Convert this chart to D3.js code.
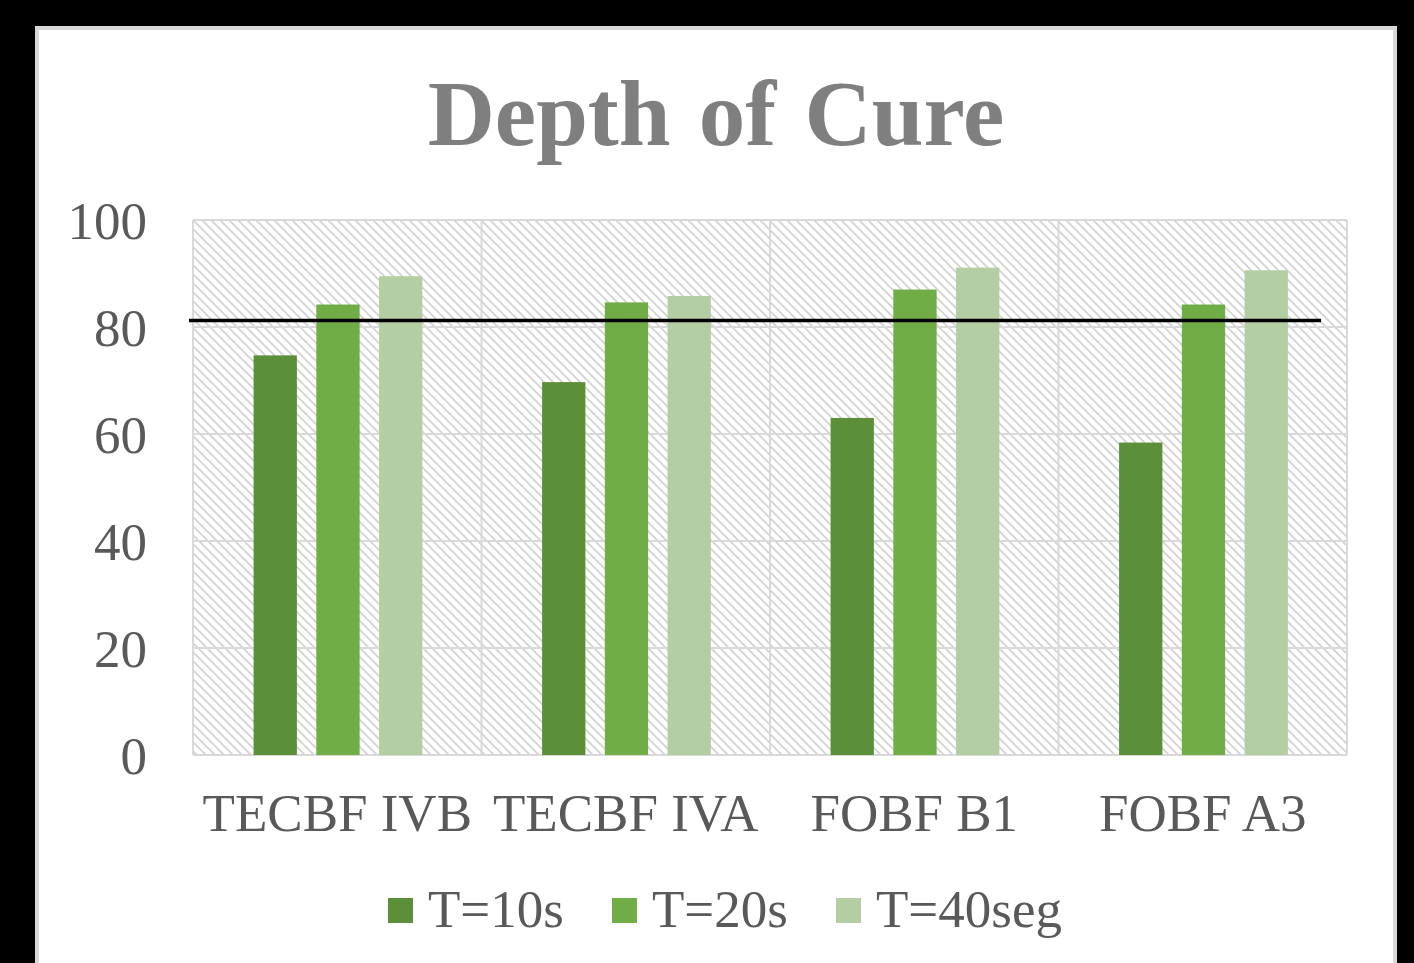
<!DOCTYPE html>
<html>
<head>
<meta charset="utf-8">
<script src="https://cdn.jsdelivr.net/npm/d3@7"></script>
<style>
  html, body { margin: 0; padding: 0; background: #000; }
  svg { display: block; }
  text { font-family: "Liberation Serif", "Times New Roman", serif; }
</style>
</head>
<body>
<svg id="chart" width="1414" height="963"></svg>
<script>
// chart data
const categories = ["TECBF IVB", "TECBF IVA", "FOBF B1", "FOBF A3"];
const seriesNames = ["T=10s", "T=20s", "T=40seg"];
const t10 = [74.7, 69.7, 63.0, 58.4];
const t20 = [84.2, 84.6, 87.0, 84.2];
const t40 = [89.5, 85.8, 91.1, 90.6];
const yTicks = [0, 20, 40, 60, 80, 100];
const threshold = 81.2;

const colors = ["#5b8f3a", "#70ad47", "#b4cea4"];
const seriesValues = [t10, t20, t40];

const svg = d3.select("#chart");
const W = 1414, H = 963;

// black backdrop + white chart panel
svg.append("rect").attr("width", W).attr("height", H).attr("fill", "#000");
svg.append("rect")
    .attr("x", 37).attr("y", 28)
    .attr("width", 1358).attr("height", 960)
    .attr("fill", "#fff")
    .attr("stroke", "#d9d9d9")
    .attr("stroke-width", 4);

// hatch pattern for the plot area
const defs = svg.append("defs");
const pat = defs.append("pattern")
    .attr("id", "hatch")
    .attr("patternUnits", "userSpaceOnUse")
    .attr("width", 9).attr("height", 9);
pat.append("rect").attr("width", 9).attr("height", 9).attr("fill", "#fff");
pat.append("path")
    .attr("d", "M-2,-2 L11,11 M-2,7 L2,11 M7,-2 L11,2")
    .attr("stroke", "#d3d3d3")
    .attr("stroke-width", 1.8);

const plot = { left: 193, right: 1347, top: 220, bottom: 755 };

const x = d3.scaleBand()
    .domain(categories)
    .range([plot.left, plot.right])
    .padding(0);

const bw = x.bandwidth();
const x1 = d3.scaleBand()
    .domain(seriesNames)
    .range([bw * 0.21, bw * 0.795])
    .paddingInner(0.31)
    .paddingOuter(0);

const y = d3.scaleLinear()
    .domain([0, 100])
    .range([plot.bottom, plot.top]);

// plot background
svg.append("rect")
    .attr("x", plot.left).attr("y", plot.top)
    .attr("width", plot.right - plot.left)
    .attr("height", plot.bottom - plot.top)
    .attr("fill", "url(#hatch)");

// horizontal gridlines
svg.append("g")
  .selectAll("line")
  .data(yTicks)
  .join("line")
    .attr("x1", plot.left).attr("x2", plot.right)
    .attr("y1", d => y(d)).attr("y2", d => y(d))
    .attr("stroke", "#d9d9d9")
    .attr("stroke-width", 2);

// vertical gridlines at category borders
const vlines = categories.map(c => x(c)).concat([plot.right]);
svg.append("g")
  .selectAll("line")
  .data(vlines)
  .join("line")
    .attr("x1", d => d).attr("x2", d => d)
    .attr("y1", plot.top).attr("y2", plot.bottom)
    .attr("stroke", "#d9d9d9")
    .attr("stroke-width", 2);

// bars
const groups = svg.append("g")
  .selectAll("g")
  .data(categories)
  .join("g")
    .attr("transform", d => `translate(${x(d)},0)`);

groups.selectAll("rect")
  .data((c, i) => seriesNames.map((s, k) => ({ s, k, v: seriesValues[k][i] })))
  .join("rect")
    .attr("x", d => x1(d.s))
    .attr("width", x1.bandwidth())
    .attr("y", d => y(d.v))
    .attr("height", d => y(0) - y(d.v))
    .attr("fill", d => colors[d.k]);

// threshold line
const xl = d3.scaleLinear().domain([0, categories.length]).range([plot.left, plot.right]);
svg.append("line")
    .attr("x1", xl(-0.014)).attr("x2", xl(3.91))
    .attr("y1", y(threshold)).attr("y2", y(threshold))
    .attr("stroke", "#000")
    .attr("stroke-width", 3.5);

// y axis labels
const yAxis = d3.axisLeft(y).tickValues(yTicks).tickSize(0).tickPadding(46);
const ya = svg.append("g")
    .attr("transform", `translate(${plot.left},0)`)
    .call(yAxis);
ya.select(".domain").remove();
ya.selectAll("text")
    .attr("font-family", "Liberation Serif, Times New Roman, serif")
    .attr("font-size", 53)
    .attr("fill", "#595959")
    .attr("dy", "0.34em");

// x axis labels
const xAxis = d3.axisBottom(x).tickSize(0).tickPadding(38);
const xa = svg.append("g")
    .attr("transform", `translate(0,${plot.bottom})`)
    .call(xAxis);
xa.select(".domain").remove();
xa.selectAll("text")
    .attr("font-family", "Liberation Serif, Times New Roman, serif")
    .attr("font-size", 53)
    .attr("fill", "#595959");

// title
svg.append("text")
    .attr("x", 716).attr("y", 145)
    .attr("text-anchor", "middle")
    .attr("font-size", 93)
    .attr("font-weight", "bold")
    .attr("word-spacing", 5)
    .attr("fill", "#7f7f7f")
    .text("Depth of Cure");

// legend
const legendX = [388, 612, 836];
const leg = svg.append("g")
  .selectAll("g")
  .data(seriesNames)
  .join("g")
    .attr("transform", (d, i) => `translate(${legendX[i]},898)`);
leg.append("rect")
    .attr("width", 25).attr("height", 25)
    .attr("fill", (d, i) => colors[i]);
leg.append("text")
    .attr("x", 40).attr("y", 29)
    .attr("font-size", 53)
    .attr("fill", "#595959")
    .text(d => d);
</script>
</body>
</html>
